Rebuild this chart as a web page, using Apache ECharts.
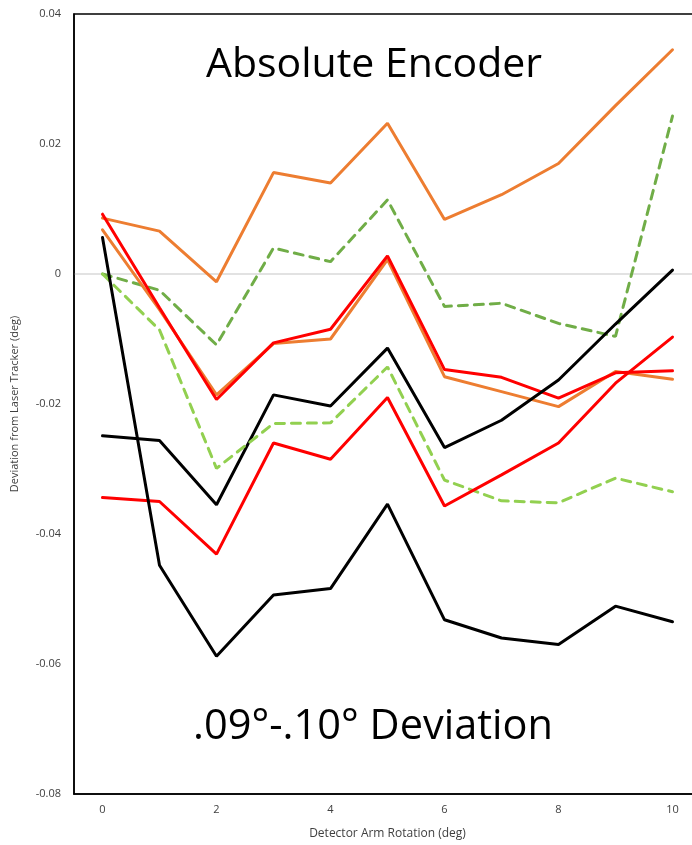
<!DOCTYPE html>
<html>
<head>
<meta charset="utf-8">
<script src="https://cdn.jsdelivr.net/npm/echarts@6/dist/echarts.min.js"></script>
<style>html,body{margin:0;padding:0;background:#fff;overflow:hidden;}#chart{width:692px;height:845px;}</style>
</head>
<body>
<div id="chart"></div>
<script>
var categories = ['0','1','2','3','4','5','6','7','8','9','10'];
var orangeTop   = [0.0086, 0.0066, -0.0012, 0.0156, 0.0140, 0.0232, 0.0084, 0.0122, 0.0170, 0.0259, 0.0345];
var greenDarkDash = [0.0000, -0.0025, -0.0109, 0.0040, 0.0019, 0.0114, -0.0050, -0.0045, -0.0076, -0.0096, 0.0243];
var redUpper    = [0.0092, -0.0052, -0.0193, -0.0106, -0.0085, 0.0028, -0.0147, -0.0159, -0.0191, -0.0152, -0.0149];
var orangeLower = [0.0068, -0.0055, -0.0186, -0.0107, -0.0100, 0.0022, -0.0158, -0.0181, -0.0204, -0.0150, -0.0162];
var blackUpper  = [-0.0249, -0.0256, -0.0355, -0.0186, -0.0203, -0.0114, -0.0267, -0.0225, -0.0163, -0.0077, 0.0006];
var greenLightDash = [0.0000, -0.0086, -0.0299, -0.0230, -0.0229, -0.0143, -0.0317, -0.0349, -0.0352, -0.0314, -0.0335];
var redLower    = [-0.0344, -0.0350, -0.0431, -0.0260, -0.0285, -0.0190, -0.0357, -0.0309, -0.0260, -0.0168, -0.0097];
var blackLower  = [0.0056, -0.0448, -0.0588, -0.0494, -0.0484, -0.0354, -0.0532, -0.0560, -0.0570, -0.0511, -0.0535];

var chart = echarts.init(document.getElementById('chart'), null, {renderer: 'canvas'});
var font = 'Open Sans';
function line(name, data, color, dashed) {
  return {
    name: name, type: 'line', data: data, symbol: 'none', smooth: false,
    lineStyle: {color: color, width: 3, type: dashed ? [9, 7] : 'solid', cap: 'round'},
    itemStyle: {color: color}, z: 3, animation: false
  };
}
var option = {
  backgroundColor: '#fff',
  animation: false,
  title: [
    {text: 'Absolute Encoder', left: 369, top: 40, textAlign: 'center',
     textStyle: {fontFamily: font, fontSize: 41, fontWeight: 'normal', color: '#000'}},
    {text: '.09°-.10° Deviation', left: 368, top: 701, textAlign: 'center',
     textStyle: {fontFamily: font, fontSize: 41.5, fontWeight: 'normal', color: '#000'}}
  ],
  grid: {left: 74, top: 14, width: 627, bottom: 51, show: true, borderColor: '#000', borderWidth: 1.5,
         backgroundColor: 'transparent', containLabel: false, outerBoundsMode: 'none'},
  xAxis: {
    type: 'category', data: categories, boundaryGap: true,
    name: 'Detector Arm Rotation (deg)', nameLocation: 'middle', nameGap: 34,
    nameTextStyle: {fontFamily: font, fontSize: 12, color: '#404040'},
    axisLine: {show: true, onZero: false, lineStyle: {color: '#000', width: 1.5}},
    axisTick: {show: false},
    axisLabel: {interval: 1, fontFamily: font, fontSize: 11, color: '#404040', margin: 10},
    splitLine: {show: false}
  },
  yAxis: {
    type: 'value', min: -0.08, max: 0.04, interval: 0.02,
    name: 'Deviation from Laser Tracker (deg)', nameLocation: 'middle', nameGap: 54,
    nameTextStyle: {fontFamily: font, fontSize: 11, color: '#404040'},
    axisLine: {show: true, onZero: false, lineStyle: {color: '#000', width: 1.5}},
    axisTick: {show: false},
    axisLabel: {fontFamily: font, fontSize: 11, color: '#404040', margin: 13,
      formatter: function (v) { return v === 0 ? '0' : String(Math.round(v * 100) / 100); }},
    splitLine: {show: true, lineStyle: {width: 1.5,
      color: ['rgba(0,0,0,0)','rgba(0,0,0,0)','rgba(0,0,0,0)','rgba(0,0,0,0)','#D9D9D9','rgba(0,0,0,0)','rgba(0,0,0,0)']}}
  },
  series: [
    line('Orange A', orangeTop, '#ED7D31', false),
    line('Green A', greenDarkDash, '#70AD47', true),
    line('Orange B', orangeLower, '#ED7D31', false),
    line('Red A', redUpper, '#FF0000', false),
    line('Black A', blackUpper, '#000000', false),
    line('Green B', greenLightDash, '#92D050', true),
    line('Red B', redLower, '#FF0000', false),
    line('Black B', blackLower, '#000000', false)
  ]
};
chart.setOption(option);
</script>
</body>
</html>
